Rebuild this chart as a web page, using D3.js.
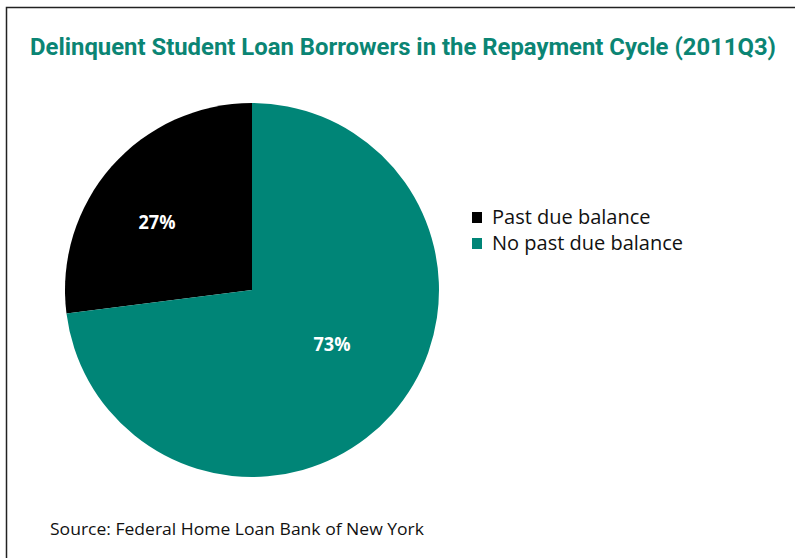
<!doctype html>
<html lang="en">
<head>
  <meta charset="utf-8">
  <script src="https://cdn.jsdelivr.net/npm/d3@7"></script>
  <title>Delinquent Student Loan Borrowers</title>
  <style>
    body { margin: 0; background: #fff; }
    text { font-family: "Open Sans", "DejaVu Sans", sans-serif; }
  </style>
</head>
<body>
  <svg id="chart" width="795" height="558"></svg>
  <script>
    // chart data
    var categories = ["Past due balance", "No past due balance"];
    var shares = [27, 73];
    var colors = ["#000000", "#008577"];
    var labels = ["27%", "73%"];

    var svg = d3.select("#chart");

    // frame (top and left edges only)
    svg.append("path")
        .attr("d", "M6.5,558 V7.5 H795")
        .attr("fill", "none")
        .attr("stroke", "#222")
        .attr("stroke-width", 1.5);

    // title
    svg.append("text")
        .attr("x", 30)
        .attr("y", 55)
        .attr("fill", "#0b8574")
        .style("font-family", "Roboto, 'Open Sans', sans-serif")
        .style("font-size", "24px")
        .style("font-weight", "bold")
        .attr("textLength", 746)
        .attr("lengthAdjust", "spacingAndGlyphs")
        .text("Delinquent Student Loan Borrowers in the Repayment Cycle (2011Q3)");

    // pie: teal slice runs clockwise from 12 o'clock, black fills the rest
    var r = 187;
    var g = svg.append("g").attr("transform", "translate(252,290)");
    var data = categories.map(function(c, i) { return { name: c, value: shares[i], color: colors[i], label: labels[i] }; });
    var pie = d3.pie()
        .value(function(d) { return d.value; })
        .sort(null)
        .startAngle(2 * Math.PI * shares[1] / 100)
        .endAngle(2 * Math.PI * shares[1] / 100 + 2 * Math.PI);
    var arc = d3.arc().innerRadius(0).outerRadius(r);

    var slices = pie(data).map(function(s) {
      // wrap angles back into 0..2pi
      if (s.startAngle >= 2 * Math.PI) { s.startAngle -= 2 * Math.PI; s.endAngle -= 2 * Math.PI; }
      return s;
    });

    g.selectAll("path.slice")
      .data(slices)
      .enter()
      .append("path")
        .attr("class", "slice")
        .attr("d", arc)
        .attr("fill", function(d) { return d.data.color; });

    // percent labels
    var labelArc = d3.arc().innerRadius(0).outerRadius(240);
    var labelShift = [[-5, 18], [-10, -18]];
    g.selectAll("text.pct")
      .data(slices)
      .enter()
      .append("text")
        .attr("class", "pct")
        .attr("transform", function(d, i) {
          var c = labelArc.centroid(d);
          return "translate(" + (c[0] + labelShift[i][0]) + "," + (c[1] + labelShift[i][1]) + ")";
        })
        .attr("text-anchor", "middle")
        .attr("fill", "#fff")
        .style("font-size", "20px")
        .style("font-weight", "bold")
        .attr("textLength", 37)
        .attr("lengthAdjust", "spacingAndGlyphs")
        .text(function(d) { return d.data.label; });

    // legend
    var legend = svg.append("g").attr("transform", "translate(472,212)");
    var rows = legend.selectAll("g")
      .data(data)
      .enter()
      .append("g")
        .attr("transform", function(d, i) { return "translate(0," + (i * 26) + ")"; });
    rows.append("rect")
        .attr("width", 10)
        .attr("height", 11)
        .attr("fill", function(d) { return d.color; });
    rows.append("text")
        .attr("x", 20)
        .attr("y", 12)
        .attr("fill", "#111")
        .style("font-size", "20px")
        .text(function(d) { return d.name; });

    // source note
    svg.append("text")
        .attr("x", 50)
        .attr("y", 535)
        .attr("fill", "#111")
        .style("font-size", "17px")
        .attr("textLength", 374)
        .attr("lengthAdjust", "spacingAndGlyphs")
        .text("Source: Federal Home Loan Bank of New York");
  </script>
</body>
</html>
